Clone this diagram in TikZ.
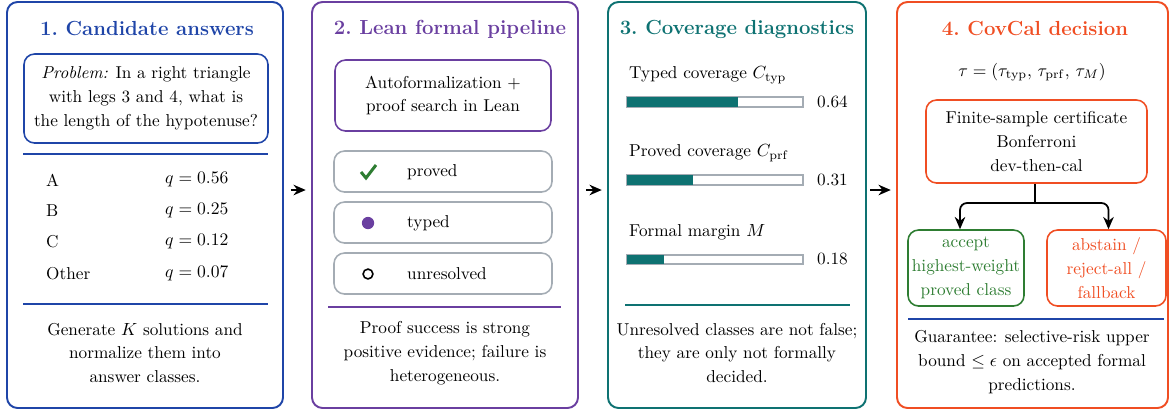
\documentclass[tikz,border=0pt]{standalone}
\usepackage{amsmath,amssymb}
\usetikzlibrary{arrows.meta,fit}

\definecolor{candblue}{HTML}{1F45A8}
\definecolor{leanpurple}{HTML}{6A3FA0}
\definecolor{covteal}{HTML}{0E7272}
\definecolor{calred}{HTML}{F04E23}
\definecolor{acceptgreen}{HTML}{2E7D32}
\definecolor{statusgray}{HTML}{A4ACB4}

\tikzset{
  panel/.style={draw=#1, line width=1.1pt, rounded corners=6pt, inner sep=0pt},
  innerbox/.style={draw=#1, line width=0.9pt, rounded corners=6pt, inner sep=0pt},
  paneltitle/.style={text=#1, font=\fontsize{11.6}{14}\selectfont\bfseries},
  body/.style={font=\fontsize{9.8}{13.6}\selectfont, align=center},
  sepline/.style={draw=#1, line width=0.9pt},
  flow/.style={-{Stealth[length=7pt,width=6pt]}, line width=1pt, black}
}

\begin{document}
\begin{tikzpicture}[x=0.02cm, y=-0.02cm]
  \useasboundingbox (0,0) rectangle (1172,410);

  % Panels
  \node[panel=candblue, fit={(7,2) (283,408)}] (p1) {};
  \node[panel=leanpurple, fit={(312,2) (578,408)}] (p2) {};
  \node[panel=covteal, fit={(608,2) (866,408)}] (p3) {};
  \node[panel=calred, fit={(897,2) (1168,408)}] (p4) {};

  % Arrows between panels
  \draw[flow, shorten <=4pt, shorten >=3pt] ([yshift=0.3cm]p1.east) -- ([yshift=0.3cm]p2.west);
  \draw[flow, shorten <=4pt, shorten >=3pt] ([yshift=0.3cm]p2.east) -- ([yshift=0.3cm]p3.west);
  \draw[flow, shorten <=2pt, shorten >=3pt] ([yshift=0.3cm]p3.east) -- ([yshift=0.3cm]p4.west);

  % 1. Candidate answers
  \node[paneltitle=candblue] (t1) at (147,29) {1.\ Candidate answers};
  \node[innerbox=candblue, fit={(24,54) (268,143)}] (prob) {};
  \node[body] (probtext) at (prob.center) {\textit{Problem:} In a right triangle\\with legs 3 and 4, what is\\the length of the hypotenuse?};
  \draw[sepline=candblue] (23,154) -- (268,154);
  \node[body, anchor=west] (ansA) at (40,180) {A};
  \node[body, anchor=west] (qA) at (159,180) {$q = 0.56$};
  \node[body, anchor=west] (ansB) at (40,211) {B};
  \node[body, anchor=west] (qB) at (159,211) {$q = 0.25$};
  \node[body, anchor=west] (ansC) at (40,242) {C};
  \node[body, anchor=west] (qC) at (159,242) {$q = 0.12$};
  \node[body, anchor=west] (ansO) at (40,274) {Other};
  \node[body, anchor=west] (qO) at (159,274) {$q = 0.07$};
  \draw[sepline=candblue] (23,304) -- (268,304);
  \node[body] (note1) at (145,353) {Generate $K$ solutions and\\normalize them into\\answer classes.};

  % 2. Lean formal pipeline
  \node[paneltitle=leanpurple] (t2) at (450,29) {2.\ Lean formal pipeline};
  \node[innerbox=leanpurple, fit={(335,60) (551,131)}] (lean) {};
  \node[body] (leantext) at (lean.center) {Autoformalization +\\proof search in Lean};
  \node[innerbox=statusgray, fit={(334,151) (552,192)}] (sproved) {};
  \node[innerbox=statusgray, fit={(334,202) (552,243)}] (styped) {};
  \node[innerbox=statusgray, fit={(334,253) (552,294)}] (sunres) {};
  \draw[acceptgreen, line width=1.7pt] (361,172) -- (366,178) -- (376,165);
  \node[circle, fill=leanpurple, minimum size=7pt, inner sep=0pt] (ityped) at (368,223) {};
  \node[circle, draw=black, line width=0.9pt, minimum size=5.6pt, inner sep=0pt] (iunres) at (368,274) {};
  \node[body, anchor=west] (lproved) at (401,172) {proved};
  \node[body, anchor=west] (ltyped) at (401,223) {typed};
  \node[body, anchor=west] (lunres) at (401,274) {unresolved};
  \draw[sepline=leanpurple] (328,307) -- (561,307);
  \node[body] (note2) at (445,353) {Proof success is strong\\positive evidence; failure is\\heterogeneous.};

  % 3. Coverage diagnostics
  \node[paneltitle=covteal] (t3) at (737,29) {3.\ Coverage diagnostics};
  \node[body, anchor=west] (ltyp) at (623,75) {Typed coverage $C_{\mathrm{typ}}$};
  \draw[statusgray, line width=0.8pt] (627,97) rectangle (803,107);
  \fill[covteal] (627,97) rectangle (738,107);
  \node[body, anchor=west] (vtyp) at (811,102) {0.64};
  \node[body, anchor=west] (lprf) at (623,153) {Proved coverage $C_{\mathrm{prf}}$};
  \draw[statusgray, line width=0.8pt] (627,175) rectangle (803,185);
  \fill[covteal] (627,175) rectangle (693,185);
  \node[body, anchor=west] (vprf) at (811,180) {0.31};
  \node[body, anchor=west] (lmar) at (623,232) {Formal margin $M$};
  \draw[statusgray, line width=0.8pt] (627,255) rectangle (803,264);
  \fill[covteal] (627,255) rectangle (664,264);
  \node[body, anchor=west] (vmar) at (811,259) {0.18};
  \draw[sepline=covteal] (625,305) -- (850,305);
  \node[body] (note3) at (737,353) {Unresolved classes are not false;\\they are only not formally\\decided.};

  % 4. CovCal decision
  \node[paneltitle=calred] (t4) at (1035,29) {4.\ CovCal decision};
  \node[body] (tau) at (1032,72) {$\tau = (\tau_{\mathrm{typ}},\, \tau_{\mathrm{prf}},\, \tau_M)$};
  \node[innerbox=calred, fit={(926,100) (1147,183)}] (cert) {};
  \node[body] (certtext) at (cert.center) {Finite-sample certificate\\Bonferroni\\dev-then-cal};
  \node[innerbox=acceptgreen, fit={(908,230) (1024,306)}] (accept) {};
  \node[body, text=acceptgreen] (accepttext) at (accept.center) {accept\\highest-weight\\proved class};
  \node[innerbox=calred, fit={(1047,230) (1166,306)}] (abstain) {};
  \node[body, text=calred] (abstaintext) at (abstain.center) {abstain /\\reject-all /\\fallback};
  \coordinate (split) at (1035,203);
  \draw[line width=1pt] (cert.south -| split) -- (split);
  \draw[flow, rounded corners=4pt] (split) -| ([xshift=-0.12cm]accept.north);
  \draw[flow, rounded corners=4pt] (split) -| ([xshift=0.04cm]abstain.north);
  \draw[sepline=candblue] (908,319) -- (1164,319);
  \node[body] (note4) at (1032,362) {Guarantee: selective-risk upper\\bound $\le \epsilon$ on accepted formal\\predictions.};
\end{tikzpicture}
\end{document}
